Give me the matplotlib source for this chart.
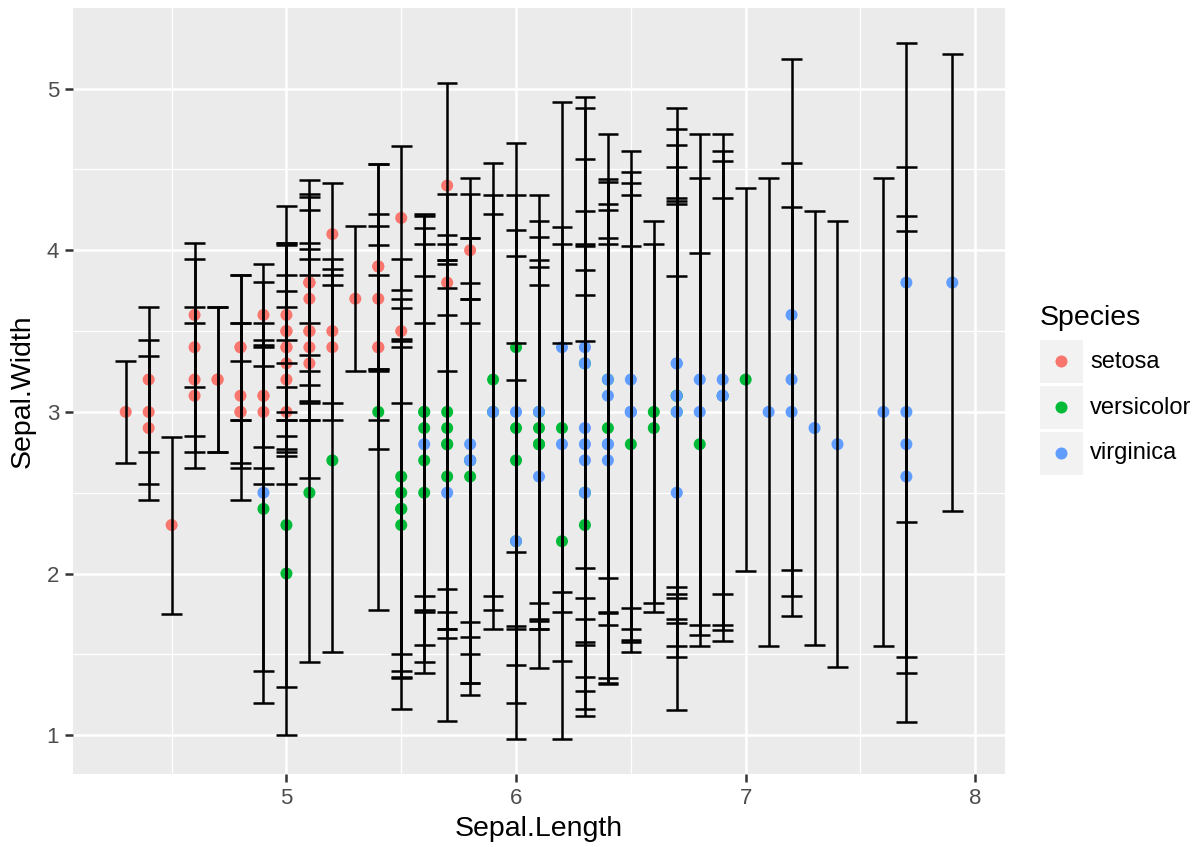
import numpy as np
import matplotlib
matplotlib.use("Agg")
import matplotlib.pyplot as plt
from matplotlib.patches import Rectangle

# iris data: Sepal.Length, Sepal.Width, Petal.Width per species
setosa_sl = [5.1,4.9,4.7,4.6,5.0,5.4,4.6,5.0,4.4,4.9,5.4,4.8,4.8,4.3,5.8,5.7,5.4,5.1,5.7,5.1,
             5.4,5.1,4.6,5.1,4.8,5.0,5.0,5.2,5.2,4.7,4.8,5.4,5.2,5.5,4.9,5.0,5.5,4.9,4.4,5.1,
             5.0,4.5,4.4,5.0,5.1,4.8,5.1,4.6,5.3,5.0]
setosa_sw = [3.5,3.0,3.2,3.1,3.6,3.9,3.4,3.4,2.9,3.1,3.7,3.4,3.0,3.0,4.0,4.4,3.9,3.5,3.8,3.8,
             3.4,3.7,3.6,3.3,3.4,3.0,3.4,3.5,3.4,3.2,3.1,3.4,4.1,4.2,3.1,3.2,3.5,3.6,3.0,3.4,
             3.5,2.3,3.2,3.5,3.8,3.0,3.8,3.2,3.7,3.3]
setosa_pw = [0.2,0.2,0.2,0.2,0.2,0.4,0.3,0.2,0.2,0.1,0.2,0.2,0.1,0.1,0.2,0.4,0.4,0.3,0.3,0.3,
             0.2,0.4,0.2,0.5,0.2,0.2,0.4,0.2,0.2,0.2,0.2,0.4,0.1,0.2,0.2,0.2,0.2,0.1,0.2,0.2,
             0.3,0.3,0.2,0.6,0.4,0.3,0.2,0.2,0.2,0.2]

versicolor_sl = [7.0,6.4,6.9,5.5,6.5,5.7,6.3,4.9,6.6,5.2,5.0,5.9,6.0,6.1,5.6,6.7,5.6,5.8,6.2,5.6,
                 5.9,6.1,6.3,6.1,6.4,6.6,6.8,6.7,6.0,5.7,5.5,5.5,5.8,6.0,5.4,6.0,6.7,6.3,5.6,5.5,
                 5.5,6.1,5.8,5.0,5.6,5.7,5.7,6.2,5.1,5.7]
versicolor_sw = [3.2,3.2,3.1,2.3,2.8,2.8,3.3,2.4,2.9,2.7,2.0,3.0,2.2,2.9,2.9,3.1,3.0,2.7,2.2,2.5,
                 3.2,2.8,2.5,2.8,2.9,3.0,2.8,3.0,2.9,2.6,2.4,2.4,2.7,2.7,3.0,3.4,3.1,2.3,3.0,2.5,
                 2.6,3.0,2.6,2.3,2.7,3.0,2.9,2.9,2.5,2.8]
versicolor_pw = [1.4,1.5,1.5,1.3,1.5,1.3,1.6,1.0,1.3,1.4,1.0,1.5,1.0,1.4,1.3,1.4,1.5,1.0,1.5,1.1,
                 1.8,1.3,1.5,1.2,1.3,1.4,1.4,1.7,1.5,1.0,1.1,1.0,1.2,1.6,1.5,1.6,1.5,1.3,1.3,1.3,
                 1.2,1.4,1.2,1.0,1.3,1.2,1.3,1.3,1.1,1.3]

virginica_sl = [6.3,5.8,7.1,6.3,6.5,7.6,4.9,7.3,6.7,7.2,6.5,6.4,6.8,5.7,5.8,6.4,6.5,7.7,7.7,6.0,
                6.9,5.6,7.7,6.3,6.7,7.2,6.2,6.1,6.4,7.2,7.4,7.9,6.4,6.3,6.1,7.7,6.3,6.4,6.0,6.9,
                6.7,6.9,5.8,6.8,6.7,6.7,6.3,6.5,6.2,5.9]
virginica_sw = [3.3,2.7,3.0,2.9,3.0,3.0,2.5,2.9,2.5,3.6,3.2,2.7,3.0,2.5,2.8,3.2,3.0,3.8,2.6,2.2,
                3.2,2.8,2.8,2.7,3.3,3.2,2.8,3.0,2.8,3.0,2.8,3.8,2.8,2.8,2.6,3.0,3.4,3.1,3.0,3.1,
                3.1,3.1,2.7,3.2,3.3,3.0,2.5,3.0,3.4,3.0]
virginica_pw = [2.5,1.9,2.1,1.8,2.2,2.1,1.7,1.8,1.8,2.5,2.0,1.9,2.1,2.0,2.4,2.3,1.8,2.2,2.3,1.5,
                2.3,2.0,2.0,1.8,2.1,1.8,1.8,1.8,2.1,1.6,1.9,2.0,2.2,1.5,1.4,2.3,2.4,1.8,1.8,2.1,
                2.4,2.3,1.9,2.3,2.5,2.3,1.9,2.0,2.3,1.8]

species = ["setosa", "versicolor", "virginica"]
colors = ["#F8766D", "#00BA38", "#619CFF"]
x_ticks = [5, 6, 7, 8]
y_ticks = [1, 2, 3, 4, 5]

groups = [(setosa_sl, setosa_sw, setosa_pw),
          (versicolor_sl, versicolor_sw, versicolor_pw),
          (virginica_sl, virginica_sw, virginica_pw)]

W, H = 1199, 847
fig = plt.figure(figsize=(W/100, H/100), dpi=100)
plt.rcParams['font.family'] = ['Liberation Sans', 'DejaVu Sans']

L, R, T, B = 73, 1005, 8, 774
ax = fig.add_axes([L/W, 1-B/H, (R-L)/W, (B-T)/H])
ax.set_facecolor("#EBEBEB")
for s in ax.spines.values():
    s.set_visible(False)

all_x = np.concatenate([np.array(g[0]) for g in groups])
all_y = np.concatenate([np.array(g[1]) for g in groups])
all_e = np.sqrt(np.concatenate([np.array(g[2]) for g in groups]))
capw = 0.09
xmin, xmax = all_x.min() - capw/2, all_x.max() + capw/2
ymin, ymax = (all_y - all_e).min(), (all_y + all_e).max()
dx, dy = (xmax - xmin)*0.05, (ymax - ymin)*0.05
ax.set_xlim(xmin - dx, xmax + dx)
ax.set_ylim(ymin - dy, ymax + dy)

# grid
for v in [4.5, 5.5, 6.5, 7.5]:
    ax.axvline(v, color="white", lw=0.9, zorder=0.5)
for v in [1.5, 2.5, 3.5, 4.5]:
    ax.axhline(v, color="white", lw=0.9, zorder=0.5)
for v in x_ticks:
    ax.axvline(v, color="white", lw=1.8, zorder=0.6)
for v in y_ticks:
    ax.axhline(v, color="white", lw=1.8, zorder=0.6)

for (sl, sw, pw), c in zip(groups, colors):
    ax.scatter(sl, sw, s=75, color=c, edgecolors="none", zorder=2)

for (sl, sw, pw) in groups:
    sl = np.array(sl); sw = np.array(sw); e = np.sqrt(np.array(pw))
    lo, hi = sw - e, sw + e
    ax.vlines(sl, lo, hi, color="black", lw=1.8, zorder=3)
    ax.hlines(lo, sl - capw/2, sl + capw/2, color="black", lw=1.8, zorder=3)
    ax.hlines(hi, sl - capw/2, sl + capw/2, color="black", lw=1.8, zorder=3)

ax.set_xticks(x_ticks)
ax.set_yticks(y_ticks)
ax.set_xticklabels([str(v) for v in x_ticks])
ax.set_yticklabels([str(v) for v in y_ticks])
ax.tick_params(axis="both", length=6, width=1.8, color="#333333",
               labelcolor="#4D4D4D", labelsize=16, pad=4)
ax.set_xlabel("Sepal.Length", fontsize=20.5, color="black", labelpad=5)
ax.set_ylabel("Sepal.Width", fontsize=20.5, color="black", labelpad=8)

# legend
lg = fig.add_axes([0, 0, 1, 1])
lg.set_xlim(0, W); lg.set_ylim(H, 0); lg.axis("off")
lg.text(1040, 318, "Species", fontsize=20.5, va="center", ha="left")
tops = [340, 386, 432]
for t, c, name in zip(tops, colors, species):
    lg.add_patch(Rectangle((1040, t), 43, 43, facecolor="#F2F2F2", edgecolor="none"))
    lg.scatter([1061.5], [t + 21.5], s=75, color=c, edgecolors="none")
    lg.text(1090, t + 21.5, name, fontsize=17, va="center", ha="left")

fig.savefig("out.png", dpi=100)
